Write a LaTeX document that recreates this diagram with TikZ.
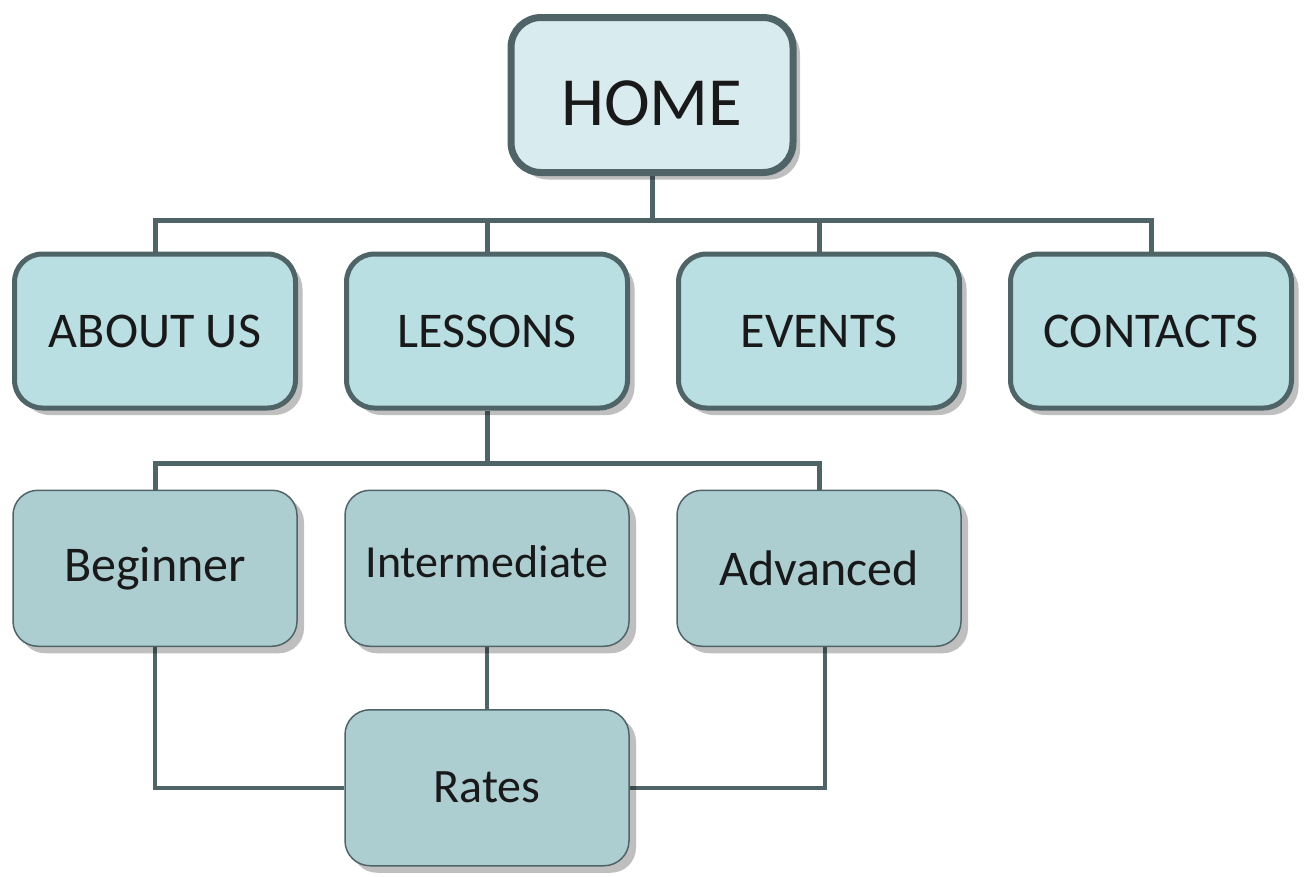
\documentclass[tikz,border=0pt]{standalone}
\usepackage{fontspec}
\setmainfont{Carlito}
\usetikzlibrary{positioning,shadows,backgrounds}
\definecolor{edgegray}{HTML}{4F6466}
\definecolor{homeblue}{HTML}{D8ECEF}
\definecolor{pageblue}{HTML}{B9DFE3}
\definecolor{subblue}{HTML}{ADCED1}

\begin{document}
\begin{tikzpicture}[x=1pt,y=1pt,node distance=79pt and 46pt,
		box/.style={rectangle,align=center,text=black!90,
			drop shadow={shadow xshift=7pt,shadow yshift=-7pt,fill=black,opacity=.25}},
		top/.style={box,rounded corners=30pt,draw=edgegray,line width=7pt,fill=homeblue,
			minimum width=282pt,minimum height=155pt,text height=60pt,text depth=0pt,
			font=\fontsize{69}{80}\selectfont},
		page/.style={box,rounded corners=28pt,draw=edgegray,line width=5pt,fill=pageblue,
			minimum width=281pt,minimum height=154pt,font=\fontsize{50}{60}\selectfont},
		sub/.style={box,rounded corners=25pt,draw=edgegray,line width=1.5pt,fill=subblue,
			minimum width=284pt,minimum height=156pt,font=\fontsize{50}{60}\selectfont},
		link/.style={draw=edgegray,line width=5pt},
		sublink/.style={draw=edgegray,line width=4pt}]
	\useasboundingbox (0,0) rectangle (1304,-876);

	\node[top] (p_0) at (652,-95) {HOME};
	\node[page] (p_1) at (155,-331) {ABOUT US};
	\node[page] [right=of p_1] (p_2) {LESSONS};
	\node[page] [right=of p_2] (p_3) {EVENTS};
	\node[page] [right=of p_3] (p_4) {CONTACTS};
	\node[sub] [below=of p_1] (p_5) {Beginner};
	\node[sub,text depth=14pt] [below=of p_2] (p_6) {\fontsize{46}{55}\selectfont Intermediate};
	\node[sub] [below=of p_3] (p_7) {Advanced};
	\node[sub] [below=62pt of p_6] (p_8) {\fontsize{48}{58}\selectfont Rates};

	\coordinate (b_0) at (p_0.south |- 0,-220);
	\coordinate (b_1) at (p_2.south |- 0,-463);
	\coordinate (c_7) at ([xshift=6pt]p_7.south);

	\begin{scope}[on background layer]
		\path[link]
			(p_0.south) -- (b_0)
			(b_0) -| (p_1.north)
			(b_0) -| (p_2.north)
			(b_0) -| (p_3.north)
			(b_0) -| (p_4.north)
			(p_2.south) -- (b_1)
			(b_1) -| (p_5.north)
			(b_1) -| (p_7.north);
		\path[sublink]
			(p_5.south) |- (p_8.west)
			(p_6.south) -- (p_8.north)
			(c_7) |- (p_8.east);
	\end{scope}
\end{tikzpicture}
\end{document}
